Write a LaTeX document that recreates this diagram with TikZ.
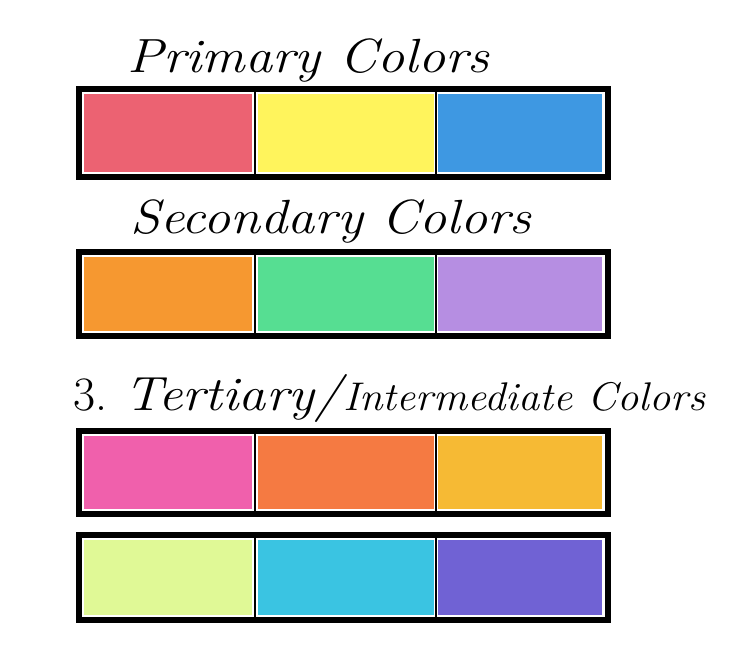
\documentclass[tikz,border=0pt]{standalone}
\usepackage{tikz}
\definecolor{crRed}{RGB}{236,98,114}
\definecolor{crYellow}{RGB}{255,244,92}
\definecolor{crBlue}{RGB}{62,152,226}
\definecolor{crOrange}{RGB}{246,152,48}
\definecolor{crGreen}{RGB}{86,222,146}
\definecolor{crPurple}{RGB}{182,142,226}
\definecolor{crMagenta}{RGB}{240,96,172}
\definecolor{crRedOrange}{RGB}{245,122,66}
\definecolor{crYellowOrange}{RGB}{246,186,52}
\definecolor{crYellowGreen}{RGB}{224,249,150}
\definecolor{crCyan}{RGB}{58,196,226}
\definecolor{crViolet}{RGB}{112,98,212}

\begin{document}
\begin{tikzpicture}[x=1pt,y=-1pt,
  frame/.style={line width=6pt,draw=black},
  divider/.style={line width=2.5pt,draw=black},
  title/.style={anchor=base west,inner sep=0pt,xscale=1.13,font=\fontsize{48}{50}\selectfont\itshape}]
\useasboundingbox (0,0) rectangle (748,662);
\fill[white] (0,0) rectangle (748,662);
% headings
\node[title] (primary) at (127,72) {Primary Colors};
\node[title] (secondary) at (130,233) {Secondary Colors};
\node[title,xscale=1/1.13,font=\fontsize{48}{50}\selectfont\upshape] (number) at (73,410) {3.};
\node[title] (tertiary) at (124,410) {Tertiary/};
\node[title,xscale=0.942,font=\fontsize{40}{42}\selectfont\itshape] (intermediate) at (343,410) {Intermediate Colors};
% swatch rows
\foreach \top/\bot/\ca/\cb/\cc in {86/180/crRed/crYellow/crBlue,
    249/339/crOrange/crGreen/crPurple,
    428/517/crMagenta/crRedOrange/crYellowOrange,
    532/623/crYellowGreen/crCyan/crViolet}{
  \fill[\ca] (84,\top+8) rectangle (252,\bot-8);
  \fill[\cb] (258,\top+8) rectangle (434,\bot-8);
  \fill[\cc] (438,\top+8) rectangle (602,\bot-8);
  \draw[frame] (79,\top+3) rectangle (608,\bot-3);
  \draw[divider] (255,\top+3) -- (255,\bot-3);
  \draw[divider] (436,\top+3) -- (436,\bot-3);
}
\end{tikzpicture}
\end{document}
